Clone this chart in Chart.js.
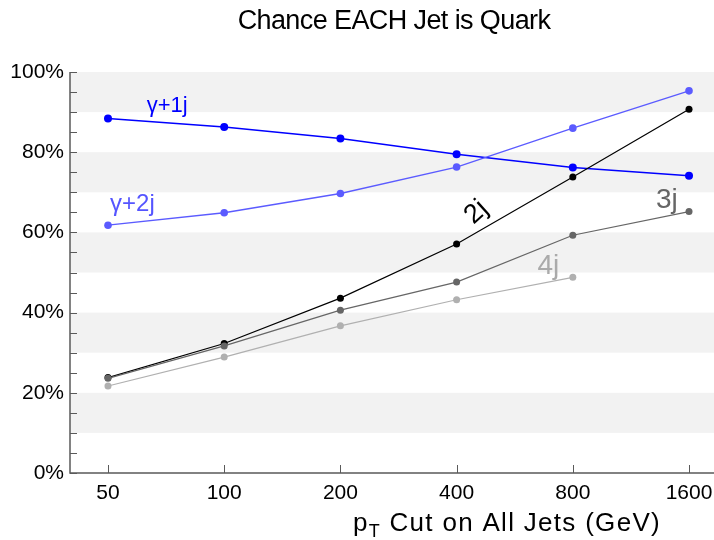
<!DOCTYPE html>
<html>
<head>
<meta charset="utf-8">
<script src="https://cdn.jsdelivr.net/npm/chart.js@4.4.1/dist/chart.umd.min.js"></script>
<style>
  html, body { margin: 0; padding: 0; background: #fff; }
  canvas { display: block; }
</style>
</head>
<body>
<canvas id="chart" width="714" height="540"></canvas>
<script>
// pT cut values (GeV), shown as evenly spaced categories
const xLabels = ['50', '100', '200', '400', '800', '1600'];

// Chance (%) that each jet is a quark
const gamma1j = [88.4, 86.3, 83.4, 79.5, 76.2, 74.1];
const gamma2j = [61.8, 64.9, 69.7, 76.3, 86.0, 95.3];
const jets2 = [23.8, 32.3, 43.6, 57.1, 73.8, 90.7];
const jets3 = [23.6, 31.7, 40.6, 47.6, 59.3, 65.2];
const jets4 = [21.7, 28.9, 36.7, 43.2, 48.8];

const yTickLabels = [0, 20, 40, 60, 80, 100];

const FONT = "'Liberation Sans', Arial, sans-serif";
const AXIS_COLOR = '#5a5a5a';

function pts(arr) {
    return arr.map((v, i) => ({ x: i, y: v }));
}

// in-chart series labels (data coordinates)
const seriesLabels = [
    { text: 'γ+1j', x: 0.51, y: 91.6, color: '#0000ff', size: 22, rot: 0 },
    { text: 'γ+2j', x: 0.21, y: 67.0, color: '#5555ff', size: 24, rot: 0 },
    { text: '2j', x: 3.17, y: 65.0, color: '#000000', size: 27, rot: -42 },
    { text: '3j', x: 4.81, y: 68.0, color: '#666666', size: 28, rot: 0 },
    { text: '4j', x: 3.79, y: 51.6, color: '#aaaaaa', size: 28, rot: 0 }
];

const decorPlugin = {
    id: 'decor',
    beforeDatasetsDraw(chart) {
        const ctx = chart.ctx;
        const area = chart.chartArea;
        const ys = chart.scales.y;
        const xs = chart.scales.x;
        ctx.save();
        // gray bands
        ctx.fillStyle = '#f2f2f2';
        for (let v = 10; v < 100; v += 20) {
            const top = ys.getPixelForValue(v + 10);
            const bot = ys.getPixelForValue(v);
            ctx.fillRect(area.left, top, area.right - area.left, bot - top);
        }
        // axes lines
        ctx.strokeStyle = AXIS_COLOR;
        ctx.lineWidth = 1.5;
        ctx.beginPath();
        ctx.moveTo(area.left, area.top);
        ctx.lineTo(area.left, area.bottom);
        ctx.lineTo(area.right, area.bottom);
        ctx.stroke();
        // y ticks (inward), every 5%
        ctx.lineWidth = 1;
        ctx.beginPath();
        for (let v = 0; v <= 100; v += 5) {
            const y = Math.round(ys.getPixelForValue(v)) + 0.5;
            ctx.moveTo(area.left, y);
            ctx.lineTo(area.left + 7, y);
        }
        // x ticks (inward)
        for (let i = 0; i < xLabels.length; i++) {
            const x = Math.round(xs.getPixelForValue(i)) + 0.5;
            ctx.moveTo(x, area.bottom);
            ctx.lineTo(x, area.bottom - 8);
        }
        ctx.stroke();
        ctx.restore();
    },
    afterDatasetsDraw(chart) {
        const ctx = chart.ctx;
        const xs = chart.scales.x;
        const ys = chart.scales.y;
        ctx.save();
        ctx.textAlign = 'center';
        ctx.textBaseline = 'middle';
        seriesLabels.forEach(l => {
            ctx.save();
            ctx.translate(xs.getPixelForValue(l.x), ys.getPixelForValue(l.y));
            ctx.rotate(l.rot * Math.PI / 180);
            ctx.font = l.size + 'px ' + FONT;
            ctx.fillStyle = l.color;
            ctx.fillText(l.text, 0, 0);
            ctx.restore();
        });
        ctx.restore();

        // title
        ctx.save();
        ctx.fillStyle = '#000';
        ctx.textAlign = 'center';
        ctx.textBaseline = 'alphabetic';
        ctx.font = '27px ' + FONT;
        ctx.letterSpacing = '-0.6px';
        ctx.fillText('Chance EACH Jet is Quark', 394, 29);

        // x axis title with subscript
        ctx.letterSpacing = '1.3px';
        ctx.textAlign = 'left';
        const big = '26px ' + FONT;
        const small = '18px ' + FONT;
        const rest = ' Cut on All Jets (GeV)';
        ctx.font = big;
        const wp = ctx.measureText('p').width;
        const wr = ctx.measureText(rest).width;
        ctx.font = small;
        const wt = ctx.measureText('T').width;
        let x = 661 - (wp + wt + wr);
        ctx.font = big;
        ctx.fillText('p', x, 531);
        x += wp;
        ctx.font = small;
        ctx.fillText('T', x, 537);
        x += wt;
        ctx.font = big;
        ctx.fillText(rest, x, 531);
        ctx.restore();
    }
};

function series(label, data, color, width, radius) {
    return {
        label: label,
        data: pts(data),
        borderColor: color,
        backgroundColor: color,
        borderWidth: width,
        pointRadius: radius,
        pointBorderWidth: 0,
        tension: 0
    };
}

new Chart(document.getElementById('chart'), {
    type: 'line',
    data: {
        datasets: [
            series('4j', jets4, '#b0b0b0', 1.2, 3.5),
            series('3j', jets3, '#666666', 1.2, 3.5),
            series('2j', jets2, '#000000', 1.2, 3.5),
            series('γ+2j', gamma2j, '#5b5bff', 1.3, 3.8),
            series('γ+1j', gamma1j, '#0000ff', 1.5, 4)
        ]
    },
    options: {
        responsive: false,
        animation: false,
        devicePixelRatio: 1,
        layout: { autoPadding: false, padding: { top: 72, right: 0, left: 0, bottom: 0 } },
        plugins: {
            legend: { display: false },
            title: { display: false },
            tooltip: { enabled: false }
        },
        scales: {
            x: {
                type: 'linear',
                min: -0.327,
                max: 5.215,
                afterBuildTicks: axis => {
                    axis.ticks = xLabels.map((_, i) => ({ value: i }));
                },
                afterFit: axis => {
                    axis.height = 67;
                    axis.paddingLeft = 0;
                    axis.paddingRight = 0;
                },
                grid: { display: false, drawTicks: false },
                border: { display: false },
                ticks: {
                    padding: 8,
                    color: '#000',
                    font: { family: FONT, size: 21 },
                    maxRotation: 0,
                    callback: v => xLabels[v]
                }
            },
            y: {
                min: 0,
                max: 100,
                afterBuildTicks: axis => {
                    axis.ticks = yTickLabels.map(v => ({ value: v }));
                },
                afterFit: axis => { axis.width = 70; },
                grid: { display: false, drawTicks: false },
                border: { display: false },
                ticks: {
                    padding: 6,
                    color: '#000',
                    font: { family: FONT, size: 21 },
                    callback: v => v + '%'
                }
            }
        }
    },
    plugins: [decorPlugin]
});
</script>
</body>
</html>
